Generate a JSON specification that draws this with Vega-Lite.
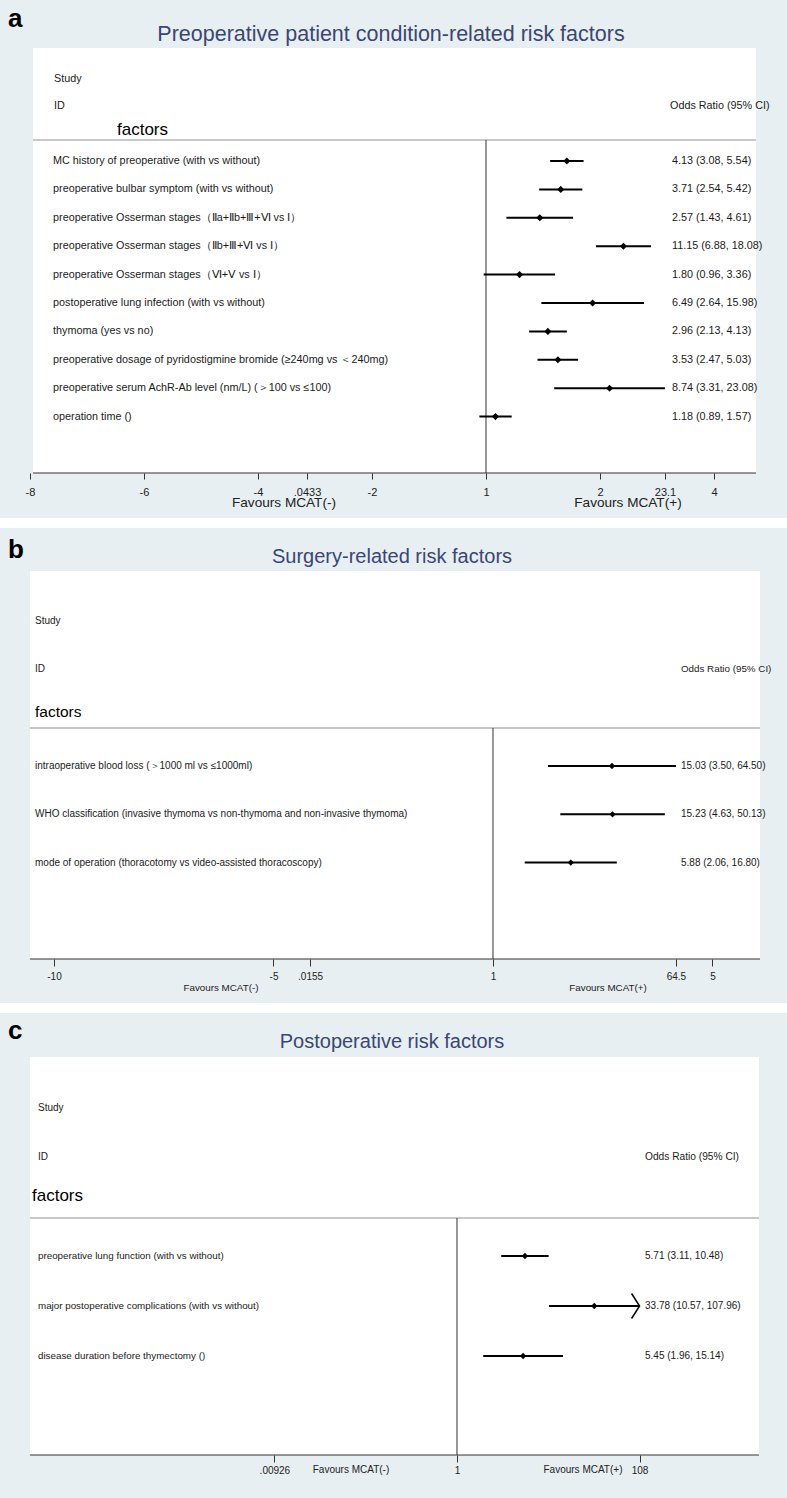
{
  "$schema": "https://vega.github.io/schema/vega-lite/v6.json",
  "background": "white",
  "padding": 0,
  "spacing": 10,
  "config": {"view": {"stroke": null, "fill": "#e8eff2"}},
  "resolve": {"scale": {"x": "independent", "y": "independent"}},
  "datasets": {
    "a": [
      {"row": 1, "factor": "MC history of preoperative (with vs without)", "or": 4.13, "lo": 3.08, "hi": 5.54, "label": "4.13 (3.08, 5.54)"},
      {"row": 2, "factor": "preoperative bulbar symptom (with vs without)", "or": 3.71, "lo": 2.54, "hi": 5.42, "label": "3.71 (2.54, 5.42)"},
      {"row": 3, "factor": "preoperative Osserman stages（Ⅱa+Ⅱb+Ⅲ+Ⅵ vs Ⅰ）", "or": 2.57, "lo": 1.43, "hi": 4.61, "label": "2.57 (1.43, 4.61)"},
      {"row": 4, "factor": "preoperative Osserman stages（Ⅱb+Ⅲ+Ⅵ vs  Ⅰ）", "or": 11.15, "lo": 6.88, "hi": 18.08, "label": "11.15 (6.88, 18.08)"},
      {"row": 5, "factor": "preoperative Osserman stages（Ⅵ+Ⅴ vs  Ⅰ）", "or": 1.80, "lo": 0.96, "hi": 3.36, "label": "1.80 (0.96, 3.36)"},
      {"row": 6, "factor": "postoperative lung infection (with vs without)", "or": 6.49, "lo": 2.64, "hi": 15.98, "label": "6.49 (2.64, 15.98)"},
      {"row": 7, "factor": "thymoma (yes vs no)", "or": 2.96, "lo": 2.13, "hi": 4.13, "label": "2.96 (2.13, 4.13)"},
      {"row": 8, "factor": "preoperative dosage of pyridostigmine bromide (≥240mg vs ＜240mg)", "or": 3.53, "lo": 2.47, "hi": 5.03, "label": "3.53 (2.47, 5.03)"},
      {"row": 9, "factor": "preoperative serum AchR-Ab level (nm/L) (＞100 vs ≤100)", "or": 8.74, "lo": 3.31, "hi": 23.08, "label": "8.74 (3.31, 23.08)"},
      {"row": 10, "factor": "operation time ()", "or": 1.18, "lo": 0.89, "hi": 1.57, "label": "1.18 (0.89, 1.57)"}
    ],
    "b": [
      {"row": 1, "factor": "intraoperative blood loss (＞1000 ml vs ≤1000ml)", "or": 15.03, "lo": 3.50, "hi": 64.50, "label": "15.03 (3.50, 64.50)"},
      {"row": 2, "factor": "WHO classification (invasive thymoma vs non-thymoma and non-invasive thymoma)", "or": 15.23, "lo": 4.63, "hi": 50.13, "label": "15.23 (4.63, 50.13)"},
      {"row": 3, "factor": "mode of operation (thoracotomy vs video-assisted thoracoscopy)", "or": 5.88, "lo": 2.06, "hi": 16.80, "label": "5.88 (2.06, 16.80)"}
    ],
    "c": [
      {"row": 1, "factor": "preoperative lung function (with vs without)", "or": 5.71, "lo": 3.11, "hi": 10.48, "label": "5.71 (3.11, 10.48)"},
      {"row": 2, "factor": "major postoperative complications  (with vs without)", "or": 33.78, "lo": 10.57, "hi": 107.96, "label": "33.78 (10.57, 107.96)"},
      {"row": 3, "factor": "disease duration before thymectomy ()", "or": 5.45, "lo": 1.96, "hi": 15.14, "label": "5.45 (1.96, 15.14)"}
    ]
  },
  "vconcat": [
    {
      "width": 787, "height": 518,
      "layer": [
        {"data": {"values": [{}]}, "mark": {"type": "rect", "fill": "white"},
         "encoding": {"x": {"datum": 0.0003537, "type": "quantitative", "scale": {"type": "log", "domain": [0.0001982, 196.5], "nice": false},
                            "axis": {"values": [0.00033546, 0.00247875, 0.0183156, 0.0433, 0.135335, 1, 7.38906, 23.1, 54.5982],
                                     "labelExpr": "datum.value < 0.001 ? '-8' : datum.value < 0.01 ? '-6' : datum.value < 0.03 ? '-4' : datum.value < 0.1 ? '.0433' : datum.value < 0.5 ? '-2' : datum.value < 2 ? '1' : datum.value < 10 ? '2' : datum.value < 30 ? '23.1' : '4'",
                                     "domain": false, "grid": false, "ticks": true, "tickSize": 6, "tickColor": "#333333", "tickWidth": 1,
                                     "labelFont": "Liberation Sans", "labelFontSize": 11, "labelColor": "#222222", "labelPadding": 7,
                                     "offset": -45, "title": null, "labelOverlap": false, "labelFlush": false, "labelBound": false, "zindex": 1}},
                      "x2": {"datum": 114.1},
                      "y": {"datum": -2.979, "type": "quantitative", "scale": {"domain": [-4.669, 13.57], "reverse": true, "nice": false, "zero": false}, "axis": null}, "y2": {"datum": 11.986}}},
        {"data": {"values": [{}]}, "mark": {"type": "rule", "color": "#c8c8c8", "strokeWidth": 2},
         "encoding": {"x": {"datum": 0.0003537, "type": "quantitative", "scale": {"type": "log", "domain": [0.0001982, 196.5], "nice": false}}, "x2": {"datum": 114.1},
                      "y": {"datum": 0.261, "type": "quantitative", "scale": {"domain": [-4.669, 13.57], "reverse": true, "nice": false, "zero": false}, "axis": null}}},
        {"data": {"values": [{}]}, "mark": {"type": "rule", "color": "#333333", "strokeWidth": 1},
         "encoding": {"x": {"datum": 0.0003537, "type": "quantitative", "scale": {"type": "log", "domain": [0.0001982, 196.5], "nice": false}}, "x2": {"datum": 114.1},
                      "y": {"datum": 11.986, "type": "quantitative", "scale": {"domain": [-4.669, 13.57], "reverse": true, "nice": false, "zero": false}, "axis": null}}},
        {"data": {"values": [{}]}, "mark": {"type": "rule", "color": "#333333", "strokeWidth": 1},
         "encoding": {"x": {"datum": 1, "type": "quantitative", "scale": {"type": "log", "domain": [0.0001982, 196.5], "nice": false}},
                      "y": {"datum": 0.261, "type": "quantitative", "scale": {"domain": [-4.669, 13.57], "reverse": true, "nice": false, "zero": false}, "axis": null}, "y2": {"datum": 11.986}}},
        {"data": {"name": "a"}, "mark": {"type": "rule", "color": "black", "strokeWidth": 2},
         "encoding": {"x": {"field": "lo", "type": "quantitative", "scale": {"type": "log", "domain": [0.0001982, 196.5], "nice": false}},
                      "x2": {"field": "hi"},
                      "y": {"field": "row", "type": "quantitative", "scale": {"domain": [-4.669, 13.57], "reverse": true, "nice": false, "zero": false}, "axis": null}}},
        {"data": {"name": "a"}, "mark": {"type": "point", "shape": "diamond", "filled": true, "color": "black", "size": 50, "opacity": 1},
         "encoding": {"x": {"field": "or", "type": "quantitative", "scale": {"type": "log", "domain": [0.0001982, 196.5], "nice": false}},
                      "y": {"field": "row", "type": "quantitative", "scale": {"domain": [-4.669, 13.57], "reverse": true, "nice": false, "zero": false}, "axis": null}}},
        {"data": {"name": "a"}, "mark": {"type": "text", "align": "left", "baseline": "middle", "font": "Liberation Sans", "fontSize": 10.8, "color": "#1a1a1a"},
         "encoding": {"x": {"datum": 0.0005025, "type": "quantitative", "scale": {"type": "log", "domain": [0.0001982, 196.5], "nice": false}},
                      "y": {"field": "row", "type": "quantitative", "scale": {"domain": [-4.669, 13.57], "reverse": true, "nice": false, "zero": false}, "axis": null},
                      "text": {"field": "factor"}}},
        {"data": {"name": "a"}, "mark": {"type": "text", "align": "left", "baseline": "middle", "font": "Liberation Sans", "fontSize": 10.8, "color": "#1a1a1a"},
         "encoding": {"x": {"datum": 26.13, "type": "quantitative", "scale": {"type": "log", "domain": [0.0001982, 196.5], "nice": false}},
                      "y": {"field": "row", "type": "quantitative", "scale": {"domain": [-4.669, 13.57], "reverse": true, "nice": false, "zero": false}, "axis": null},
                      "text": {"field": "label"}}},
        {"data": {"values": [{}]}, "mark": {"type": "text", "text": "a", "align": "left", "baseline": "middle", "font": "Liberation Sans", "fontWeight": "bold", "fontSize": 26, "color": "black"},
         "encoding": {"x": {"datum": 0.000228, "type": "quantitative", "scale": {"type": "log", "domain": [0.0001982, 196.5], "nice": false}},
                      "y": {"datum": -4.0, "type": "quantitative", "scale": {"domain": [-4.669, 13.57], "reverse": true, "nice": false, "zero": false}, "axis": null}}},
        {"data": {"values": [{}]}, "mark": {"type": "text", "text": "Preoperative patient condition-related risk factors", "align": "center", "baseline": "middle", "font": "Liberation Sans", "fontSize": 21.5, "color": "#3a4673"},
         "encoding": {"x": {"datum": 0.1889, "type": "quantitative", "scale": {"type": "log", "domain": [0.0001982, 196.5], "nice": false}},
                      "y": {"datum": -3.437, "type": "quantitative", "scale": {"domain": [-4.669, 13.57], "reverse": true, "nice": false, "zero": false}, "axis": null}}},
        {"data": {"values": [{}]}, "mark": {"type": "text", "text": "Study", "align": "left", "baseline": "middle", "font": "Liberation Sans", "fontSize": 10.8, "color": "#1a1a1a"},
         "encoding": {"x": {"datum": 0.0005111, "type": "quantitative", "scale": {"type": "log", "domain": [0.0001982, 196.5], "nice": false}},
                      "y": {"datum": -1.887, "type": "quantitative", "scale": {"domain": [-4.669, 13.57], "reverse": true, "nice": false, "zero": false}, "axis": null}}},
        {"data": {"values": [{}]}, "mark": {"type": "text", "text": "ID", "align": "left", "baseline": "middle", "font": "Liberation Sans", "fontSize": 10.8, "color": "#1a1a1a"},
         "encoding": {"x": {"datum": 0.0005111, "type": "quantitative", "scale": {"type": "log", "domain": [0.0001982, 196.5], "nice": false}},
                      "y": {"datum": -0.937, "type": "quantitative", "scale": {"domain": [-4.669, 13.57], "reverse": true, "nice": false, "zero": false}, "axis": null}}},
        {"data": {"values": [{}]}, "mark": {"type": "text", "text": "Odds Ratio (95% CI)", "align": "left", "baseline": "middle", "font": "Liberation Sans", "fontSize": 10.8, "color": "#1a1a1a"},
         "encoding": {"x": {"datum": 25.23, "type": "quantitative", "scale": {"type": "log", "domain": [0.0001982, 196.5], "nice": false}},
                      "y": {"datum": -0.937, "type": "quantitative", "scale": {"domain": [-4.669, 13.57], "reverse": true, "nice": false, "zero": false}, "axis": null}}},
        {"data": {"values": [{}]}, "mark": {"type": "text", "text": "factors", "align": "left", "baseline": "middle", "font": "Liberation Sans", "fontSize": 17, "color": "black"},
         "encoding": {"x": {"datum": 0.001543, "type": "quantitative", "scale": {"type": "log", "domain": [0.0001982, 196.5], "nice": false}},
                      "y": {"datum": -0.092, "type": "quantitative", "scale": {"domain": [-4.669, 13.57], "reverse": true, "nice": false, "zero": false}, "axis": null}}},
        {"data": {"values": [{}]}, "mark": {"type": "text", "text": "Favours MCAT(-)", "align": "center", "baseline": "middle", "font": "Liberation Sans", "fontSize": 13.6, "color": "#222222"},
         "encoding": {"x": {"datum": 0.0289, "type": "quantitative", "scale": {"type": "log", "domain": [0.0001982, 196.5], "nice": false}},
                      "y": {"datum": 13.04, "type": "quantitative", "scale": {"domain": [-4.669, 13.57], "reverse": true, "nice": false, "zero": false}, "axis": null}}},
        {"data": {"values": [{}]}, "mark": {"type": "text", "text": "Favours MCAT(+)", "align": "center", "baseline": "middle", "font": "Liberation Sans", "fontSize": 13.6, "color": "#222222"},
         "encoding": {"x": {"datum": 12.07, "type": "quantitative", "scale": {"type": "log", "domain": [0.0001982, 196.5], "nice": false}},
                      "y": {"datum": 13.04, "type": "quantitative", "scale": {"domain": [-4.669, 13.57], "reverse": true, "nice": false, "zero": false}, "axis": null}}}
      ]
    },
    {
      "width": 787, "height": 475,
      "layer": [
        {"data": {"values": [{}]}, "mark": {"type": "rect", "fill": "white"},
         "encoding": {"x": {"datum": 0.00002627, "type": "quantitative", "scale": {"type": "log", "domain": [0.00001327, 810.0], "nice": false},
                            "axis": {"values": [0.0000453999, 0.00673795, 0.0155, 1, 64.5, 148.413],
                                     "labelExpr": "datum.value < 0.0001 ? '-10' : datum.value < 0.01 ? '-5' : datum.value < 0.1 ? '.0155' : datum.value < 2 ? '1' : datum.value < 100 ? '64.5' : '5'",
                                     "domain": false, "grid": false, "ticks": true, "tickSize": 7, "tickColor": "#333333", "tickWidth": 1,
                                     "labelFont": "Liberation Sans", "labelFontSize": 10, "labelColor": "#222222", "labelPadding": 5,
                                     "offset": -44, "title": null, "labelOverlap": false, "labelFlush": false, "labelBound": false, "zindex": 1}},
                      "x2": {"datum": 437.9},
                      "y": {"datum": -3.037, "type": "quantitative", "scale": {"domain": [-3.928, 5.907], "reverse": true, "nice": false, "zero": false}, "axis": null}, "y2": {"datum": 4.996}}},
        {"data": {"values": [{}]}, "mark": {"type": "rule", "color": "#c8c8c8", "strokeWidth": 2},
         "encoding": {"x": {"datum": 0.00002627, "type": "quantitative", "scale": {"type": "log", "domain": [0.00001327, 810.0], "nice": false}}, "x2": {"datum": 437.9},
                      "y": {"datum": 0.213, "type": "quantitative", "scale": {"domain": [-3.928, 5.907], "reverse": true, "nice": false, "zero": false}, "axis": null}}},
        {"data": {"values": [{}]}, "mark": {"type": "rule", "color": "#333333", "strokeWidth": 1},
         "encoding": {"x": {"datum": 0.00002627, "type": "quantitative", "scale": {"type": "log", "domain": [0.00001327, 810.0], "nice": false}}, "x2": {"datum": 437.9},
                      "y": {"datum": 4.996, "type": "quantitative", "scale": {"domain": [-3.928, 5.907], "reverse": true, "nice": false, "zero": false}, "axis": null}}},
        {"data": {"values": [{}]}, "mark": {"type": "rule", "color": "#333333", "strokeWidth": 1},
         "encoding": {"x": {"datum": 1, "type": "quantitative", "scale": {"type": "log", "domain": [0.00001327, 810.0], "nice": false}},
                      "y": {"datum": 0.213, "type": "quantitative", "scale": {"domain": [-3.928, 5.907], "reverse": true, "nice": false, "zero": false}, "axis": null}, "y2": {"datum": 4.996}}},
        {"data": {"name": "b"}, "mark": {"type": "rule", "color": "black", "strokeWidth": 2},
         "encoding": {"x": {"field": "lo", "type": "quantitative", "scale": {"type": "log", "domain": [0.00001327, 810.0], "nice": false}},
                      "x2": {"field": "hi"},
                      "y": {"field": "row", "type": "quantitative", "scale": {"domain": [-3.928, 5.907], "reverse": true, "nice": false, "zero": false}, "axis": null}}},
        {"data": {"name": "b"}, "mark": {"type": "point", "shape": "diamond", "filled": true, "color": "black", "size": 40, "opacity": 1},
         "encoding": {"x": {"field": "or", "type": "quantitative", "scale": {"type": "log", "domain": [0.00001327, 810.0], "nice": false}},
                      "y": {"field": "row", "type": "quantitative", "scale": {"domain": [-3.928, 5.907], "reverse": true, "nice": false, "zero": false}, "axis": null}}},
        {"data": {"name": "b"}, "mark": {"type": "text", "align": "left", "baseline": "middle", "font": "Liberation Sans", "fontSize": 10, "color": "#1a1a1a"},
         "encoding": {"x": {"datum": 0.00002945, "type": "quantitative", "scale": {"type": "log", "domain": [0.00001327, 810.0], "nice": false}},
                      "y": {"field": "row", "type": "quantitative", "scale": {"domain": [-3.928, 5.907], "reverse": true, "nice": false, "zero": false}, "axis": null},
                      "text": {"field": "factor"}}},
        {"data": {"name": "b"}, "mark": {"type": "text", "align": "left", "baseline": "middle", "font": "Liberation Sans", "fontSize": 10, "color": "#1a1a1a"},
         "encoding": {"x": {"datum": 72.39, "type": "quantitative", "scale": {"type": "log", "domain": [0.00001327, 810.0], "nice": false}},
                      "y": {"field": "row", "type": "quantitative", "scale": {"domain": [-3.928, 5.907], "reverse": true, "nice": false, "zero": false}, "axis": null},
                      "text": {"field": "label"}}},
        {"data": {"values": [{}]}, "mark": {"type": "text", "text": "b", "align": "left", "baseline": "middle", "font": "Liberation Sans", "fontWeight": "bold", "fontSize": 26, "color": "black"},
         "encoding": {"x": {"datum": 0.00001592, "type": "quantitative", "scale": {"type": "log", "domain": [0.00001327, 810.0], "nice": false}},
                      "y": {"datum": -3.482, "type": "quantitative", "scale": {"domain": [-3.928, 5.907], "reverse": true, "nice": false, "zero": false}, "axis": null}}},
        {"data": {"values": [{}]}, "mark": {"type": "text", "text": "Surgery-related risk factors", "align": "center", "baseline": "middle", "font": "Liberation Sans", "fontSize": 20, "color": "#3a4673"},
         "encoding": {"x": {"datum": 0.1002, "type": "quantitative", "scale": {"type": "log", "domain": [0.00001327, 810.0], "nice": false}},
                      "y": {"datum": -3.327, "type": "quantitative", "scale": {"domain": [-3.928, 5.907], "reverse": true, "nice": false, "zero": false}, "axis": null}}},
        {"data": {"values": [{}]}, "mark": {"type": "text", "text": "Study", "align": "left", "baseline": "middle", "font": "Liberation Sans", "fontSize": 10, "color": "#1a1a1a"},
         "encoding": {"x": {"datum": 0.00002945, "type": "quantitative", "scale": {"type": "log", "domain": [0.00001327, 810.0], "nice": false}},
                      "y": {"datum": -2.002, "type": "quantitative", "scale": {"domain": [-3.928, 5.907], "reverse": true, "nice": false, "zero": false}, "axis": null}}},
        {"data": {"values": [{}]}, "mark": {"type": "text", "text": "ID", "align": "left", "baseline": "middle", "font": "Liberation Sans", "fontSize": 10, "color": "#1a1a1a"},
         "encoding": {"x": {"datum": 0.00002945, "type": "quantitative", "scale": {"type": "log", "domain": [0.00001327, 810.0], "nice": false}},
                      "y": {"datum": -1.008, "type": "quantitative", "scale": {"domain": [-3.928, 5.907], "reverse": true, "nice": false, "zero": false}, "axis": null}}},
        {"data": {"values": [{}]}, "mark": {"type": "text", "text": "Odds Ratio (95% CI)", "align": "left", "baseline": "middle", "font": "Liberation Sans", "fontSize": 9.8, "color": "#1a1a1a"},
         "encoding": {"x": {"datum": 72.39, "type": "quantitative", "scale": {"type": "log", "domain": [0.00001327, 810.0], "nice": false}},
                      "y": {"datum": -1.008, "type": "quantitative", "scale": {"domain": [-3.928, 5.907], "reverse": true, "nice": false, "zero": false}, "axis": null}}},
        {"data": {"values": [{}]}, "mark": {"type": "text", "text": "factors", "align": "left", "baseline": "middle", "font": "Liberation Sans", "fontSize": 15.5, "color": "black"},
         "encoding": {"x": {"datum": 0.00002945, "type": "quantitative", "scale": {"type": "log", "domain": [0.00001327, 810.0], "nice": false}},
                      "y": {"datum": -0.118, "type": "quantitative", "scale": {"domain": [-3.928, 5.907], "reverse": true, "nice": false, "zero": false}, "axis": null}}},
        {"data": {"values": [{}]}, "mark": {"type": "text", "text": "Favours MCAT(-)", "align": "center", "baseline": "middle", "font": "Liberation Sans", "fontSize": 9.8, "color": "#222222"},
         "encoding": {"x": {"datum": 0.002037, "type": "quantitative", "scale": {"type": "log", "domain": [0.00001327, 810.0], "nice": false}},
                      "y": {"datum": 5.596, "type": "quantitative", "scale": {"domain": [-3.928, 5.907], "reverse": true, "nice": false, "zero": false}, "axis": null}}},
        {"data": {"values": [{}]}, "mark": {"type": "text", "text": "Favours MCAT(+)", "align": "center", "baseline": "middle", "font": "Liberation Sans", "fontSize": 9.8, "color": "#222222"},
         "encoding": {"x": {"datum": 13.73, "type": "quantitative", "scale": {"type": "log", "domain": [0.00001327, 810.0], "nice": false}},
                      "y": {"datum": 5.596, "type": "quantitative", "scale": {"domain": [-3.928, 5.907], "reverse": true, "nice": false, "zero": false}, "axis": null}}}
      ]
    },
    {
      "width": 787, "height": 485,
      "layer": [
        {"data": {"values": [{}]}, "mark": {"type": "rect", "fill": "white"},
         "encoding": {"x": {"datum": 0.00001758, "type": "quantitative", "scale": {"type": "log", "domain": [0.000008146, 4731], "nice": false},
                            "axis": {"values": [0.00926, 1, 108],
                                     "labelExpr": "datum.value < 0.1 ? '.00926' : datum.value < 2 ? '1' : '108'",
                                     "domain": false, "grid": false, "ticks": true, "tickSize": 7, "tickColor": "#333333", "tickWidth": 1,
                                     "labelFont": "Liberation Sans", "labelFontSize": 10, "labelColor": "#222222", "labelPadding": 3,
                                     "offset": -43, "title": null, "labelOverlap": false, "labelFlush": false, "labelBound": false, "zindex": 1}},
                      "x2": {"datum": 2307.6},
                      "y": {"datum": -2.98, "type": "quantitative", "scale": {"domain": [-3.86, 5.84], "reverse": true, "nice": false, "zero": false}, "axis": null}, "y2": {"datum": 4.98}}},
        {"data": {"values": [{}]}, "mark": {"type": "rule", "color": "#c8c8c8", "strokeWidth": 2},
         "encoding": {"x": {"datum": 0.00001758, "type": "quantitative", "scale": {"type": "log", "domain": [0.000008146, 4731], "nice": false}}, "x2": {"datum": 2307.6},
                      "y": {"datum": 0.24, "type": "quantitative", "scale": {"domain": [-3.86, 5.84], "reverse": true, "nice": false, "zero": false}, "axis": null}}},
        {"data": {"values": [{}]}, "mark": {"type": "rule", "color": "#333333", "strokeWidth": 1},
         "encoding": {"x": {"datum": 0.00001758, "type": "quantitative", "scale": {"type": "log", "domain": [0.000008146, 4731], "nice": false}}, "x2": {"datum": 2307.6},
                      "y": {"datum": 4.98, "type": "quantitative", "scale": {"domain": [-3.86, 5.84], "reverse": true, "nice": false, "zero": false}, "axis": null}}},
        {"data": {"values": [{}]}, "mark": {"type": "rule", "color": "#333333", "strokeWidth": 1},
         "encoding": {"x": {"datum": 1, "type": "quantitative", "scale": {"type": "log", "domain": [0.000008146, 4731], "nice": false}},
                      "y": {"datum": 0.24, "type": "quantitative", "scale": {"domain": [-3.86, 5.84], "reverse": true, "nice": false, "zero": false}, "axis": null}, "y2": {"datum": 4.98}}},
        {"data": {"name": "c"}, "mark": {"type": "rule", "color": "black", "strokeWidth": 2},
         "encoding": {"x": {"field": "lo", "type": "quantitative", "scale": {"type": "log", "domain": [0.000008146, 4731], "nice": false}},
                      "x2": {"field": "hi"},
                      "y": {"field": "row", "type": "quantitative", "scale": {"domain": [-3.86, 5.84], "reverse": true, "nice": false, "zero": false}, "axis": null}}},
        {"data": {"name": "c"}, "mark": {"type": "point", "shape": "diamond", "filled": true, "color": "black", "size": 40, "opacity": 1},
         "encoding": {"x": {"field": "or", "type": "quantitative", "scale": {"type": "log", "domain": [0.000008146, 4731], "nice": false}},
                      "y": {"field": "row", "type": "quantitative", "scale": {"domain": [-3.86, 5.84], "reverse": true, "nice": false, "zero": false}, "axis": null}}},
        {"data": {"name": "c"}, "transform": [{"filter": "datum.hi > 100"}],
         "mark": {"type": "point", "shape": "M-0.64,-1L0,0L-0.64,1", "filled": false, "stroke": "black", "strokeWidth": 1.5, "size": 625, "opacity": 1},
         "encoding": {"x": {"field": "hi", "type": "quantitative", "scale": {"type": "log", "domain": [0.000008146, 4731], "nice": false}},
                      "y": {"field": "row", "type": "quantitative", "scale": {"domain": [-3.86, 5.84], "reverse": true, "nice": false, "zero": false}, "axis": null}}},
        {"data": {"name": "c"}, "mark": {"type": "text", "align": "left", "baseline": "middle", "font": "Liberation Sans", "fontSize": 9.8, "color": "#1a1a1a"},
         "encoding": {"x": {"datum": 0.00002158, "type": "quantitative", "scale": {"type": "log", "domain": [0.000008146, 4731], "nice": false}},
                      "y": {"field": "row", "type": "quantitative", "scale": {"domain": [-3.86, 5.84], "reverse": true, "nice": false, "zero": false}, "axis": null},
                      "text": {"field": "factor"}}},
        {"data": {"name": "c"}, "mark": {"type": "text", "align": "left", "baseline": "middle", "font": "Liberation Sans", "fontSize": 10, "color": "#1a1a1a"},
         "encoding": {"x": {"datum": 124.1, "type": "quantitative", "scale": {"type": "log", "domain": [0.000008146, 4731], "nice": false}},
                      "y": {"field": "row", "type": "quantitative", "scale": {"domain": [-3.86, 5.84], "reverse": true, "nice": false, "zero": false}, "axis": null},
                      "text": {"field": "label"}}},
        {"data": {"values": [{}]}, "mark": {"type": "text", "text": "c", "align": "left", "baseline": "middle", "font": "Liberation Sans", "fontWeight": "bold", "fontSize": 26, "color": "black"},
         "encoding": {"x": {"datum": 0.00001, "type": "quantitative", "scale": {"type": "log", "domain": [0.000008146, 4731], "nice": false}},
                      "y": {"datum": -3.5, "type": "quantitative", "scale": {"domain": [-3.86, 5.84], "reverse": true, "nice": false, "zero": false}, "axis": null}}},
        {"data": {"values": [{}]}, "mark": {"type": "text", "text": "Postoperative risk factors", "align": "center", "baseline": "middle", "font": "Liberation Sans", "fontSize": 20, "color": "#3a4673"},
         "encoding": {"x": {"datum": 0.1889, "type": "quantitative", "scale": {"type": "log", "domain": [0.000008146, 4731], "nice": false}},
                      "y": {"datum": -3.28, "type": "quantitative", "scale": {"domain": [-3.86, 5.84], "reverse": true, "nice": false, "zero": false}, "axis": null}}},
        {"data": {"values": [{}]}, "mark": {"type": "text", "text": "Study", "align": "left", "baseline": "middle", "font": "Liberation Sans", "fontSize": 10, "color": "#1a1a1a"},
         "encoding": {"x": {"datum": 0.00002158, "type": "quantitative", "scale": {"type": "log", "domain": [0.000008146, 4731], "nice": false}},
                      "y": {"datum": -1.96, "type": "quantitative", "scale": {"domain": [-3.86, 5.84], "reverse": true, "nice": false, "zero": false}, "axis": null}}},
        {"data": {"values": [{}]}, "mark": {"type": "text", "text": "ID", "align": "left", "baseline": "middle", "font": "Liberation Sans", "fontSize": 10, "color": "#1a1a1a"},
         "encoding": {"x": {"datum": 0.00002158, "type": "quantitative", "scale": {"type": "log", "domain": [0.000008146, 4731], "nice": false}},
                      "y": {"datum": -0.98, "type": "quantitative", "scale": {"domain": [-3.86, 5.84], "reverse": true, "nice": false, "zero": false}, "axis": null}}},
        {"data": {"values": [{}]}, "mark": {"type": "text", "text": "Odds Ratio (95% CI)", "align": "left", "baseline": "middle", "font": "Liberation Sans", "fontSize": 10.2, "color": "#1a1a1a"},
         "encoding": {"x": {"datum": 124.1, "type": "quantitative", "scale": {"type": "log", "domain": [0.000008146, 4731], "nice": false}},
                      "y": {"datum": -0.98, "type": "quantitative", "scale": {"domain": [-3.86, 5.84], "reverse": true, "nice": false, "zero": false}, "axis": null}}},
        {"data": {"values": [{}]}, "mark": {"type": "text", "text": "factors", "align": "left", "baseline": "middle", "font": "Liberation Sans", "fontSize": 17, "color": "black"},
         "encoding": {"x": {"datum": 0.00001851, "type": "quantitative", "scale": {"type": "log", "domain": [0.000008146, 4731], "nice": false}},
                      "y": {"datum": -0.2, "type": "quantitative", "scale": {"domain": [-3.86, 5.84], "reverse": true, "nice": false, "zero": false}, "axis": null}}},
        {"data": {"values": [{}]}, "mark": {"type": "text", "text": "Favours MCAT(-)", "align": "center", "baseline": "middle", "font": "Liberation Sans", "fontSize": 10, "color": "#222222"},
         "encoding": {"x": {"datum": 0.06601, "type": "quantitative", "scale": {"type": "log", "domain": [0.000008146, 4731], "nice": false}},
                      "y": {"datum": 5.28, "type": "quantitative", "scale": {"domain": [-3.86, 5.84], "reverse": true, "nice": false, "zero": false}, "axis": null}}},
        {"data": {"values": [{}]}, "mark": {"type": "text", "text": "Favours MCAT(+)", "align": "center", "baseline": "middle", "font": "Liberation Sans", "fontSize": 10, "color": "#222222"},
         "encoding": {"x": {"datum": 25.30, "type": "quantitative", "scale": {"type": "log", "domain": [0.000008146, 4731], "nice": false}},
                      "y": {"datum": 5.28, "type": "quantitative", "scale": {"domain": [-3.86, 5.84], "reverse": true, "nice": false, "zero": false}, "axis": null}}}
      ]
    }
  ]
}
